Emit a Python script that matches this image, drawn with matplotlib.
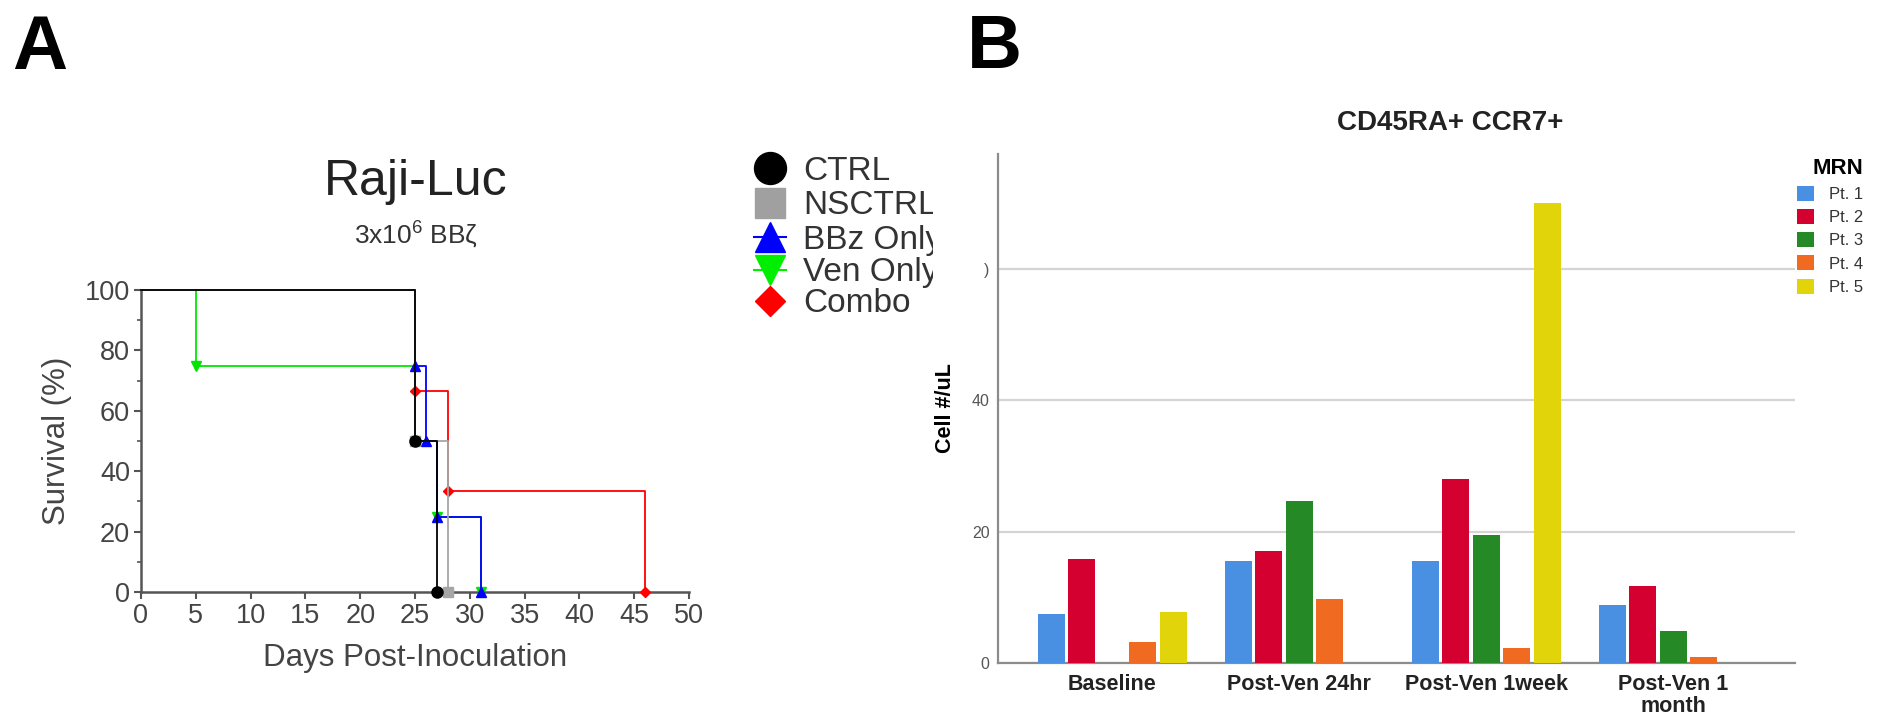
import numpy as np
import matplotlib
matplotlib.use("Agg")
import matplotlib.pyplot as plt
from matplotlib.font_manager import FontProperties

plt.rcParams['font.family'] = ['Liberation Sans', 'DejaVu Sans']
plt.rcParams['mathtext.fontset'] = 'custom'
plt.rcParams['mathtext.rm'] = 'Liberation Sans'
plt.rcParams['mathtext.it'] = 'Liberation Sans'

NARROW = ['Liberation Sans Narrow', 'Liberation Sans', 'DejaVu Sans']

# ---- panel A : survival (Kaplan-Meier steps) ----
ctrl_days, ctrl_surv = [0, 25, 27], [100, 50, 0]
nsctrl_days, nsctrl_surv = [0, 25, 28], [100, 50, 0]
bbz_days, bbz_surv = [0, 25, 26, 27, 31], [100, 75, 50, 25, 0]
ven_days, ven_surv = [0, 5, 25, 27, 31], [100, 75, 50, 25, 0]
combo_days, combo_surv = [0, 25, 28, 46], [100, 66.7, 33.3, 0]
group_names = ["CTRL", "NSCTRL", "BBz Only", "Ven Only", "Combo"]

# ---- panel B : CD45RA+ CCR7+ counts ----
timepoints = ["Baseline", "Post-Ven 24hr", "Post-Ven 1week", "Post-Ven 1\nmonth"]
patients = ["Pt. 1", "Pt. 2", "Pt. 3", "Pt. 4", "Pt. 5"]
pt1 = [7.4, 15.6, 15.5, 8.8]
pt2 = [15.8, 17.0, 28.0, 11.7]
pt3 = [0, 24.6, 19.5, 4.8]
pt4 = [3.2, 9.8, 2.3, 0.9]
pt5 = [7.7, 0, 70.1, 0]

W, H = 1883, 719
fig = plt.figure(figsize=(W / 100, H / 100), dpi=100)


def fx(px):
    return px / W


def fy(py):
    return 1 - py / H


# ── panel A ───────────────────────────────────────────────
axA = fig.add_axes([fx(141), fy(592), 548 / W, 302 / H])
axA.set_xlim(0, 50)
axA.set_ylim(0, 100)

styles = {
    "Combo":    (combo_days, combo_surv, "#ff0000", "D", 5.5),
    "Ven Only": (ven_days, ven_surv, "#00e600", "v", 7),
    "BBz Only": (bbz_days, bbz_surv, "#0000ff", "^", 7),
    "NSCTRL":   (nsctrl_days, nsctrl_surv, "#a6a6a6", "s", 7),
    "CTRL":     (ctrl_days, ctrl_surv, "#000000", "o", 8),
}
for z, name in enumerate(["Combo", "Ven Only", "BBz Only", "NSCTRL", "CTRL"]):
    d, s, c, m, ms = styles[name]
    axA.step(d, s, where='post', color=c, lw=1.3, clip_on=False, zorder=3 + z)
    axA.plot(d[1:], s[1:], ls='none', marker=m, ms=ms, color=c,
             clip_on=False, zorder=3 + z)

axA.set_xticks(range(0, 51, 5))
axA.set_yticks(range(0, 101, 20))
axA.set_yticks([10, 30, 50, 70, 90], minor=True)
axA.tick_params(which='major', direction='out', length=5, width=1.5,
                color='#555555', labelsize=19.5, labelcolor='#444444', pad=3)
axA.tick_params(which='minor', direction='out', length=3, width=1.2,
                color='#555555')
for side in ['top', 'right']:
    axA.spines[side].set_visible(False)
for side in ['left', 'bottom']:
    axA.spines[side].set_color('#555555')
    axA.spines[side].set_linewidth(1.8)

fig.text(fx(415), fy(658), "Days Post-Inoculation", fontsize=22.5,
         color='#444444', ha='center', va='center')
fig.text(fx(57), fy(441), "Survival (%)", fontsize=22.5, color='#444444',
         ha='center', va='center', rotation=90)
fig.text(fx(416), fy(195), "Raji-Luc", fontsize=36, color='#222222',
         ha='center', va='baseline')
fig.text(fx(416), fy(243), "3x10$^{6}$ BBζ", fontsize=19, color='#333333',
         ha='center', va='baseline')

# legend of panel A, clipped on the right like the source
lax = fig.add_axes([fx(740), 0, (933 - 740) / W, 1])
lax.set_xlim(740, 933)
lax.set_ylim(H, 0)
lax.axis('off')
leg_rows = [168, 203, 237, 270, 301]
leg_style = [("o", 23, "#000000", False), ("s", 21, "#a0a0a0", False),
             ("^", 21, "#0000ff", True), ("v", 21, "#00ee00", True),
             ("D", 15, "#ff0000", False)]
for name, yr, (m, ms, c, stub) in zip(group_names, leg_rows, leg_style):
    if stub:
        lax.plot([754, 786], [yr, yr], color=c, lw=1.5)
    lax.plot([770], [yr], marker=m, ms=ms, color=c, ls='none')
    lax.text(803, yr + 11.5, name, fontsize=24, color='#333333',
             va='baseline', ha='left', clip_on=True)

fig.text(fx(12), fy(69), "A", fontsize=55, fontweight='bold', va='baseline')
fig.text(fx(967), fy(68), "B", fontsize=55, fontweight='bold', va='baseline')

# ── panel B ───────────────────────────────────────────────
axB = fig.add_axes([fx(998), fy(663), 797 / W, 509 / H])
colors = ["#4a90e2", "#d4002f", "#258a25", "#f06a22", "#e2d40a"]
x = np.arange(len(timepoints))
bar_w, step = 0.144, 0.163
for i, (vals, c, lab) in enumerate(zip([pt1, pt2, pt3, pt4, pt5], colors, patients)):
    axB.bar(x + (i - 2) * step, vals, width=bar_w, color=c, label=lab, zorder=3)

axB.set_xlim(-0.61, 3.65)
axB.set_ylim(0, 77.5)
axB.set_yticks([0, 20, 40, 60])
axB.set_yticklabels(["0", "20", "40", ")"])
axB.yaxis.grid(True, color='#d4d4d4', lw=1.6)
axB.set_axisbelow(True)
axB.set_xticks(x)
axB.set_xticklabels(timepoints, fontsize=15.5, fontweight='bold', family=NARROW,
                    color='#222222', linespacing=1.05)
axB.tick_params(axis='y', length=0, labelsize=11.5, labelcolor='#555555', pad=6)
axB.tick_params(axis='x', length=0, pad=8)
for side in ['top', 'right']:
    axB.spines[side].set_visible(False)
for side in ['left', 'bottom']:
    axB.spines[side].set_color('#8c8c8c')
    axB.spines[side].set_linewidth(1.6)

fig.text(fx(946), fy(408), "Cell #/uL", fontsize=15.5, fontweight='bold',
         family=NARROW, rotation=90, ha='center', va='center')
fig.text(fx(1450), fy(123), "CD45RA+ CCR7+", fontsize=20, fontweight='bold',
         family=NARROW, ha='center', va='center', color='#222222')

leg = axB.legend(title="MRN", loc='upper left',
                 bbox_to_anchor=(fx(1797), fy(158)), bbox_transform=fig.transFigure,
                 frameon=False, prop=FontProperties(family=NARROW, size=12),
                 title_fontproperties=FontProperties(family=NARROW, size=16,
                                                     weight='bold'),
                 handlelength=1.05, handleheight=1.0, handletextpad=0.9,
                 labelspacing=0.42, borderaxespad=0, borderpad=0,
                 alignment='right')
for t in leg.get_texts():
    t.set_color('#333333')

fig.savefig("out.png", dpi=100)
